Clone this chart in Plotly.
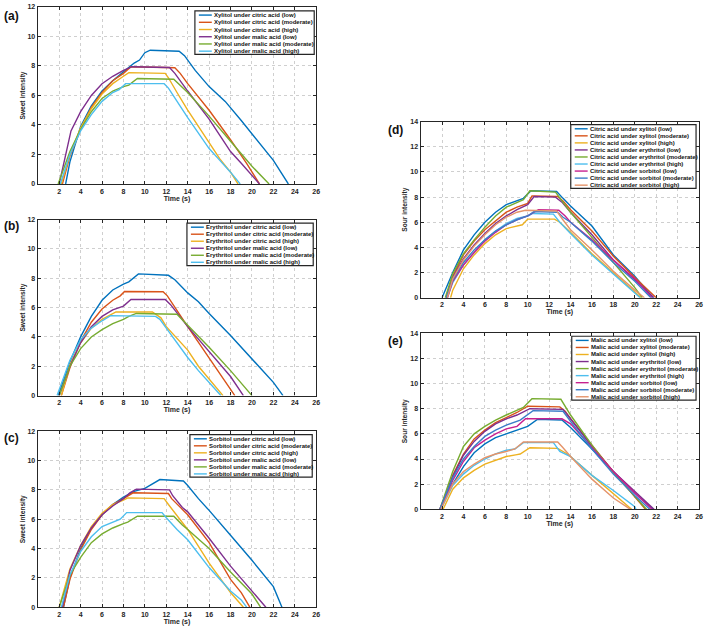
import plotly.graph_objects as go

W, H = 709, 628

# ---------------- Panel (a): Xylitol sweet intensity ----------------
a_cit_low_t = [2.6, 3, 4, 5, 6, 7, 8, 9, 9.5, 10, 10.5, 12, 13.2, 13.7, 14.7, 16, 17.5, 19, 20, 22, 23.4]
a_cit_low_y = [0, 1.5, 3.9, 5.3, 6.3, 7.0, 7.6, 8.2, 8.4, 8.9, 9.07, 9.05, 9.0, 8.7, 7.7, 6.6, 5.6, 4.3, 3.4, 1.6, 0]
a_cit_mod_t = [2.3, 3, 4, 5, 6, 7, 8, 8.7, 12.8, 13.3, 14, 16, 18, 19.5, 20.7]
a_cit_mod_y = [0, 1.9, 3.7, 5.2, 6.2, 7.0, 7.5, 7.95, 7.88, 7.5, 6.8, 5.0, 3.0, 1.4, 0]
a_cit_high_t = [2.2, 3, 4, 5, 6, 7, 8, 8.5, 11.9, 12.2, 13, 14, 16, 17, 18, 18.7]
a_cit_high_y = [0, 2.0, 3.8, 5.1, 6.1, 6.8, 7.3, 7.55, 7.5, 7.2, 6.2, 5.0, 2.8, 1.7, 0.8, 0]
a_mal_low_t = [2.0, 2.6, 3.1, 4, 5, 6, 7, 8, 8.8, 12.3, 12.8, 14, 16, 17, 18, 19, 20.7]
a_mal_low_y = [0, 2.0, 3.6, 4.9, 6.0, 6.8, 7.3, 7.7, 7.95, 7.9, 7.5, 6.3, 4.4, 3.3, 2.2, 1.4, 0]
a_mal_mod_t = [1.9, 3, 4, 5, 6, 7, 8, 8.5, 9.3, 12.7, 14, 16, 18, 20, 21.6]
a_mal_mod_y = [0, 2.2, 3.7, 4.9, 5.8, 6.3, 6.6, 6.7, 7.15, 7.1, 6.2, 4.6, 2.9, 1.2, 0]
a_mal_high_t = [2.1, 3, 4, 5, 6, 7, 7.6, 8.2, 11.8, 12.2, 14, 16, 17, 18, 18.9]
a_mal_high_y = [0, 2.0, 3.6, 4.7, 5.6, 6.2, 6.4, 6.8, 6.8, 6.5, 4.5, 2.4, 1.6, 0.8, 0]

# ---------------- Panel (b): Erythritol sweet intensity ----------------
b_cit_low_t = [1.9, 3, 4, 5, 6, 7, 8, 8.5, 9.4, 12.2, 12.8, 14, 15, 16, 18, 20, 22, 22.9]
b_cit_low_y = [0, 2.3, 4.0, 5.4, 6.5, 7.2, 7.6, 7.75, 8.3, 8.2, 7.9, 7.0, 6.4, 5.6, 4.1, 2.5, 0.9, 0]
b_cit_mod_t = [2.2, 3, 4, 5, 6, 7, 7.7, 8.1, 11.7, 12.1, 14, 16, 17, 18.4]
b_cit_mod_y = [0, 1.9, 3.7, 5.0, 5.9, 6.5, 6.8, 7.1, 7.08, 6.8, 4.7, 2.6, 1.5, 0]
b_cit_high_t = [2.2, 3, 4, 5, 6, 7, 7.3, 10.7, 11.5, 12, 14, 15, 16, 17.3]
b_cit_high_y = [0, 2.1, 3.6, 4.6, 5.2, 5.6, 5.7, 5.7, 5.3, 4.7, 3.1, 2.0, 1.1, 0]
b_mal_low_t = [2.0, 3, 4, 5, 6, 7, 8, 8.7, 11.9, 12.4, 14, 16, 18, 19.2]
b_mal_low_y = [0, 2.0, 3.6, 4.7, 5.4, 5.85, 6.1, 6.55, 6.55, 6.2, 4.7, 3.0, 1.3, 0]
b_mal_mod_t = [2.0, 3, 4, 5, 6, 7, 8, 8.5, 9.2, 13, 14, 16, 18, 20]
b_mal_mod_y = [0, 2.0, 3.2, 4.0, 4.5, 4.9, 5.2, 5.4, 5.6, 5.55, 4.8, 3.3, 1.7, 0]
b_mal_high_t = [1.8, 3, 4, 5, 6, 6.8, 11, 11.4, 12, 14, 15, 16, 16.5, 17.1]
b_mal_high_y = [0, 2.4, 3.8, 4.6, 5.1, 5.45, 5.4, 5.2, 4.6, 2.6, 1.7, 0.9, 0.5, 0]

# ---------------- Panel (c): Sorbitol sweet intensity ----------------
c_cit_low_t = [2.4, 3, 4, 5, 6, 7, 8, 9, 10, 10.5, 11.4, 13.6, 14, 15, 16, 18, 20, 22, 22.8]
c_cit_low_y = [0, 2.0, 4.0, 5.4, 6.3, 7.0, 7.5, 7.9, 8.1, 8.3, 8.7, 8.6, 8.3, 7.4, 6.6, 4.9, 3.2, 1.4, 0]
c_cit_mod_t = [2.4, 3, 4, 5, 6, 7, 8, 8.9, 12.2, 12.5, 13.6, 14, 16, 17, 18, 19, 19.8]
c_cit_mod_y = [0, 1.9, 3.9, 5.3, 6.3, 7.0, 7.4, 7.8, 7.75, 7.4, 6.6, 6.3, 4.4, 3.1, 1.9, 1.0, 0]
c_cit_high_t = [2.0, 3, 4, 5, 6, 7, 8, 8.4, 11.8, 12.2, 14, 16, 17, 18, 19.2]
c_cit_high_y = [0, 2.6, 4.2, 5.5, 6.4, 7.0, 7.3, 7.45, 7.4, 7.0, 5.3, 3.0, 2.0, 1.0, 0]
c_mal_low_t = [2.3, 3, 4, 5, 6, 7, 8, 8.6, 9.2, 12.3, 12.6, 13.5, 14, 16, 18, 20, 21.3]
c_mal_low_y = [0, 2.5, 4.2, 5.4, 6.3, 6.9, 7.4, 7.8, 8.05, 8.0, 7.6, 6.8, 6.5, 4.7, 2.8, 1.1, 0]
c_mal_mod_t = [2.0, 3, 4, 5, 6, 7, 8, 8.4, 9.3, 12.7, 13.5, 14, 16, 18, 20, 20.8]
c_mal_mod_y = [0, 2.2, 3.4, 4.4, 5.0, 5.4, 5.7, 5.8, 6.2, 6.2, 5.6, 5.3, 4.0, 2.4, 0.9, 0]
c_mal_high_t = [2.2, 3, 4, 5, 6, 7, 7.7, 8.3, 11.6, 12, 13, 14, 16, 17, 18, 19, 19.5]
c_mal_high_y = [0, 2.2, 3.8, 4.8, 5.5, 5.8, 6.0, 6.45, 6.45, 6.1, 5.3, 4.6, 2.7, 1.9, 1.1, 0.5, 0]

# ---------------- Panel (d): Citric acid sour intensity ----------------
d_xyl_low_t = [2.0, 3, 4, 5, 6, 7, 8, 9, 9.6, 10.3, 12.7, 13.3, 14, 16, 18, 20, 21.7]
d_xyl_low_y = [0, 2.0, 3.8, 5.0, 6.0, 6.8, 7.4, 7.7, 7.9, 8.5, 8.45, 7.9, 7.3, 5.7, 3.4, 1.7, 0]
d_xyl_mod_t = [2.4, 3, 4, 5, 6, 7, 8, 9, 10, 10.4, 12.8, 13.3, 14, 16, 18, 20, 22.0]
d_xyl_mod_y = [0, 1.7, 3.4, 4.5, 5.4, 6.1, 6.8, 7.2, 7.5, 8.1, 8.05, 7.7, 7.0, 5.3, 3.3, 1.6, 0]
d_xyl_high_t = [2.8, 3, 4, 5, 6, 7, 8, 9, 9.5, 10, 12.5, 13, 14, 16, 18, 20, 20.6]
d_xyl_high_y = [0, 0.6, 2.3, 3.4, 4.3, 5.0, 5.5, 5.7, 5.8, 6.25, 6.25, 6.0, 5.2, 3.5, 2.0, 0.5, 0]
d_ery_low_t = [2.4, 3, 4, 5, 6, 7, 8, 9, 10, 10.6, 12.6, 13.2, 14, 16, 18, 20, 21.8]
d_ery_low_y = [0, 1.6, 3.1, 4.2, 5.1, 5.9, 6.5, 7.0, 7.4, 8.05, 8.0, 7.6, 6.8, 5.0, 3.0, 1.4, 0]
d_ery_mod_t = [2.3, 3, 4, 5, 6, 7, 8, 9, 9.6, 10.2, 12.6, 13.2, 14, 16, 18, 20, 20.7]
d_ery_mod_y = [0, 1.9, 3.5, 4.6, 5.6, 6.5, 7.2, 7.6, 7.8, 8.5, 8.4, 7.7, 6.8, 4.8, 2.8, 0.8, 0]
d_ery_high_t = [2.5, 3, 4, 5, 6, 7, 8, 9, 10, 10.5, 12.4, 13, 14, 16, 18, 20, 20.5]
d_ery_high_y = [0, 1.2, 2.6, 3.6, 4.6, 5.3, 5.9, 6.3, 6.5, 6.7, 6.65, 6.0, 5.1, 3.4, 1.9, 0.4, 0]
d_sor_low_t = [2.5, 3, 4, 5, 6, 7, 8, 9, 10, 11, 12.9, 13.5, 14, 16, 18, 20, 21.6]
d_sor_low_y = [0, 1.3, 2.6, 3.6, 4.5, 5.2, 5.8, 6.2, 6.5, 7.0, 6.95, 6.5, 6.0, 4.6, 3.0, 1.5, 0]
d_sor_mod_t = [2.4, 3, 4, 5, 6, 7, 8, 9, 10, 10.6, 12.8, 13.3, 14, 16, 18, 20, 21.5]
d_sor_mod_y = [0, 1.4, 2.8, 3.8, 4.6, 5.3, 5.8, 6.2, 6.5, 6.85, 6.8, 6.4, 6.0, 4.5, 2.8, 1.3, 0]
d_sor_high_t = [2.5, 3, 4, 5, 6, 7, 8, 9, 9.8, 12.7, 13.2, 14, 16, 18, 20, 20.9]
d_sor_high_y = [0, 1.5, 3.0, 4.1, 5.0, 5.8, 6.4, 6.8, 6.95, 6.9, 6.3, 5.4, 3.8, 2.1, 0.6, 0]

# ---------------- Panel (e): Malic acid sour intensity ----------------
e_xyl_low_t = [1.8, 3, 4, 5, 6, 7, 8, 9, 10, 10.9, 13.2, 14, 16, 18, 20, 21.7]
e_xyl_low_y = [0, 2.0, 3.4, 4.5, 5.2, 5.7, 6.0, 6.3, 6.6, 7.15, 7.1, 6.5, 4.8, 3.0, 1.3, 0]
e_xyl_mod_t = [1.9, 3, 4, 5, 6, 7, 8, 9, 10, 13, 13.5, 14, 16, 18, 20, 21.0]
e_xyl_mod_y = [0, 2.7, 4.4, 5.6, 6.3, 6.9, 7.3, 7.7, 8.2, 8.15, 7.8, 7.2, 5.1, 3.0, 1.0, 0]
e_xyl_high_t = [2.1, 3, 4, 5, 6, 7, 8, 9, 9.3, 10.2, 12.8, 13.5, 14, 16, 18, 19.7]
e_xyl_high_y = [0, 1.6, 2.5, 3.1, 3.6, 3.9, 4.2, 4.35, 4.4, 4.9, 4.85, 4.5, 4.2, 2.7, 1.2, 0]
e_ery_low_t = [1.8, 3, 4, 5, 6, 7, 8, 9, 10.2, 13.3, 14, 16, 18, 20, 21.8]
e_ery_low_y = [0, 2.6, 4.3, 5.4, 6.2, 6.8, 7.2, 7.5, 8.0, 7.95, 7.2, 5.0, 3.0, 1.4, 0]
e_ery_mod_t = [1.8, 3, 4, 5, 6, 7, 8, 9, 9.6, 10.4, 13.1, 14, 16, 18, 20, 21.1]
e_ery_mod_y = [0, 3.0, 5.0, 6.0, 6.6, 7.1, 7.5, 7.9, 8.1, 8.8, 8.75, 7.5, 5.1, 2.9, 1.0, 0]
e_ery_high_t = [1.9, 3, 4, 5, 6, 7, 8, 8.8, 9.6, 12.4, 13, 14, 16, 18, 20, 20.1]
e_ery_high_y = [0, 1.9, 2.8, 3.5, 4.0, 4.4, 4.7, 4.8, 5.3, 5.3, 4.6, 4.2, 2.7, 1.5, 0.2, 0]
e_sor_low_t = [1.8, 3, 4, 5, 6, 7, 8, 9, 9.8, 13.2, 14, 16, 18, 20, 21.6]
e_sor_low_y = [0, 2.3, 3.8, 4.9, 5.5, 6.0, 6.4, 6.6, 7.2, 7.2, 6.8, 4.9, 3.0, 1.3, 0]
e_sor_mod_t = [1.8, 3, 4, 5, 6, 7, 8, 9, 9.3, 10.5, 13.3, 14, 16, 18, 20, 21.4]
e_sor_mod_y = [0, 2.5, 4.0, 5.0, 5.8, 6.3, 6.7, 7.0, 7.1, 7.85, 7.8, 7.0, 4.8, 2.8, 1.1, 0]
e_sor_high_t = [1.9, 3, 4, 5, 6, 7, 8, 8.8, 9.6, 12.8, 13.3, 14, 16, 18, 19.6]
e_sor_high_y = [0, 2.0, 3.0, 3.6, 4.1, 4.4, 4.6, 4.8, 5.35, 5.35, 4.9, 4.2, 2.4, 0.9, 0]

# ---------------- Labels ----------------
A_LABELS = ["Xylitol under citric acid (low)", "Xylitol under citric acid (moderate)",
            "Xylitol under citric acid (high)", "Xylitol under malic acid (low)",
            "Xylitol under malic acid (moderate)", "Xylitol under malic acid (high)"]
B_LABELS = ["Erythritol under citric acid (low)", "Erythritol under citric acid (moderate)",
            "Erythritol under citric acid (high)", "Erythritol under malic acid (low)",
            "Erythritol under malic acid (moderate)", "Erythritol under malic acid (high)"]
C_LABELS = ["Sorbitol under citric acid (low)", "Sorbitol under citric acid (moderate)",
            "Sorbitol under citric acid (high)", "Sorbitol under malic acid (low)",
            "Sorbitol under malic acid (moderate)", "Sorbitol under malic acid (high)"]
D_LABELS = ["Citric acid under xylitol (low)", "Citric acid under xylitol (moderate)",
            "Citric acid under xylitol (high)", "Citric acid under erythritol (low)",
            "Citric acid under erythritol (moderate)", "Citric acid under erythritol (high)",
            "Citric acid under sorbitol (low)", "Citric acid under sorbitol (moderate)",
            "Citric acid under sorbitol (high)"]
E_LABELS = ["Malic acid under xylitol (low)", "Malic acid under xylitol (moderate)",
            "Malic acid under xylitol (high)", "Malic acid under erythritol (low)",
            "Malic acid under erythritol (moderate)", "Malic acid under erythritol (high)",
            "Malic acid under sorbitol (low)", "Malic acid under sorbitol (moderate)",
            "Malic acid under sorbitol (high)"]

X_TICKS = [2, 4, 6, 8, 10, 12, 14, 16, 18, 20, 22, 24, 26]
SWEET_TICKS = [0, 2, 4, 6, 8, 10, 12]
SOUR_TICKS = [0, 2, 4, 6, 8, 10, 12, 14]

COLORS = ["#0072BD", "#D95319", "#EDB120", "#7E2F8E", "#77AC30", "#4DBEEE",
          "#C7208F", "#3B7DC8", "#E5946A"]

FONT = "Liberation Sans"
TXT = "#262626"

panels = [
    dict(tag="(a)", box=(38, 3, 318, 182), ymax=12, yticks=SWEET_TICKS, ytitle="Sweet intensity",
         series=[(a_cit_low_t, a_cit_low_y), (a_cit_mod_t, a_cit_mod_y), (a_cit_high_t, a_cit_high_y),
                 (a_mal_low_t, a_mal_low_y), (a_mal_mod_t, a_mal_mod_y), (a_mal_high_t, a_mal_high_y)],
         labels=A_LABELS, leg=(196, 7, 316, 51), lab=(2, 12)),
    dict(tag="(b)", box=(38, 218, 318, 396), ymax=12, yticks=SWEET_TICKS, ytitle="Sweet intensity",
         series=[(b_cit_low_t, b_cit_low_y), (b_cit_mod_t, b_cit_mod_y), (b_cit_high_t, b_cit_high_y),
                 (b_mal_low_t, b_mal_low_y), (b_mal_mod_t, b_mal_mod_y), (b_mal_high_t, b_mal_high_y)],
         labels=B_LABELS, leg=(188, 221.5, 315, 264.5), lab=(2, 225)),
    dict(tag="(c)", box=(38, 432, 318, 610), ymax=12, yticks=SWEET_TICKS, ytitle="Sweet intensity",
         series=[(c_cit_low_t, c_cit_low_y), (c_cit_mod_t, c_cit_mod_y), (c_cit_high_t, c_cit_high_y),
                 (c_mal_low_t, c_mal_low_y), (c_mal_mod_t, c_mal_mod_y), (c_mal_high_t, c_mal_high_y)],
         labels=C_LABELS, leg=(191, 435.5, 314, 478.5), lab=(2, 439)),
    dict(tag="(d)", box=(423, 119, 703, 297), ymax=14, yticks=SOUR_TICKS, ytitle="Sour intensity",
         series=[(d_xyl_low_t, d_xyl_low_y), (d_xyl_mod_t, d_xyl_mod_y), (d_xyl_high_t, d_xyl_high_y),
                 (d_ery_low_t, d_ery_low_y), (d_ery_mod_t, d_ery_mod_y), (d_ery_high_t, d_ery_high_y),
                 (d_sor_low_t, d_sor_low_y), (d_sor_mod_t, d_sor_mod_y), (d_sor_high_t, d_sor_high_y)],
         labels=D_LABELS, leg=(574, 122, 700, 186.5), lab=(388, 127)),
    dict(tag="(e)", box=(423, 333, 703, 511), ymax=14, yticks=SOUR_TICKS, ytitle="Sour intensity",
         series=[(e_xyl_low_t, e_xyl_low_y), (e_xyl_mod_t, e_xyl_mod_y), (e_xyl_high_t, e_xyl_high_y),
                 (e_ery_low_t, e_ery_low_y), (e_ery_mod_t, e_ery_mod_y), (e_ery_high_t, e_ery_high_y),
                 (e_sor_low_t, e_sor_low_y), (e_sor_mod_t, e_sor_mod_y), (e_sor_high_t, e_sor_high_y)],
         labels=E_LABELS, leg=(575, 336, 700, 400.5), lab=(388, 341)),
]


def fx(px):
    return px / W


def fy(py):
    return 1 - py / H


fig = go.Figure()
layout = dict(width=W, height=H, margin=dict(l=0, r=0, t=0, b=0),
              paper_bgcolor="white", plot_bgcolor="white", showlegend=False,
              font=dict(family=FONT, color=TXT, size=7))
shapes = []
annotations = []

for i, p in enumerate(panels, start=1):
    xa = "x" if i == 1 else f"x{i}"
    ya = "y" if i == 1 else f"y{i}"
    l, t, r, b = p["box"]
    axcommon = dict(showline=True, linecolor="#262626", linewidth=1.3, mirror="ticks",
                    ticks="inside", ticklen=3, tickwidth=1, tickcolor="#262626",
                    showgrid=True, gridcolor="#cfcfcf", griddash="dot", gridwidth=1,
                    zeroline=False, tickfont=dict(family=FONT, size=7, weight="bold", color=TXT))
    layout["xaxis" if i == 1 else f"xaxis{i}"] = dict(
        domain=[fx(l), fx(r)], range=[0, 26], tickvals=X_TICKS, anchor=ya,
        title=dict(text="Time (s)", font=dict(family=FONT, size=7, weight="bold", color=TXT), standoff=0),
        **axcommon)
    layout["yaxis" if i == 1 else f"yaxis{i}"] = dict(
        domain=[fy(b), fy(t)], range=[0, p["ymax"]], tickvals=p["yticks"], anchor=xa,
        title=dict(text=p["ytitle"], font=dict(family=FONT, size=6.6, weight="bold", color=TXT), standoff=1),
        **axcommon)
    for k, (tt, yy) in enumerate(p["series"]):
        fig.add_trace(go.Scatter(x=tt, y=yy, mode="lines", name=p["labels"][k],
                                 line=dict(color=COLORS[k], width=1.4),
                                 xaxis=xa, yaxis=ya, showlegend=False))
    # panel label
    lx, ly = p["lab"]
    annotations.append(dict(text=p["tag"], x=fx(lx), y=fy(ly), xref="paper", yref="paper",
                            xanchor="left", yanchor="middle", showarrow=False,
                            font=dict(family=FONT, size=12, weight="bold", color="#111111")))
    # manual compact legend
    L, T, R, B = p["leg"]
    shapes.append(dict(type="rect", xref="paper", yref="paper", x0=fx(L), x1=fx(R), y0=fy(B), y1=fy(T),
                       line=dict(color="#262626", width=1.2), fillcolor="white", layer="above"))
    n = len(p["labels"])
    step = (B - T - 7.5) / (n - 1)
    for k, lab in enumerate(p["labels"]):
        cy = T + 4.2 + k * step
        shapes.append(dict(type="line", xref="paper", yref="paper", x0=fx(L + 4), x1=fx(L + 17),
                           y0=fy(cy), y1=fy(cy), line=dict(color=COLORS[k], width=1.4), layer="above"))
        annotations.append(dict(text=lab, x=fx(L + 17.5), y=fy(cy), xref="paper", yref="paper",
                                xanchor="left", yanchor="middle", showarrow=False,
                                font=dict(family=FONT, size=6.0, weight="bold", color="#111111")))

layout["shapes"] = shapes
layout["annotations"] = annotations
fig.update_layout(**layout)
fig.write_html("out.html")
